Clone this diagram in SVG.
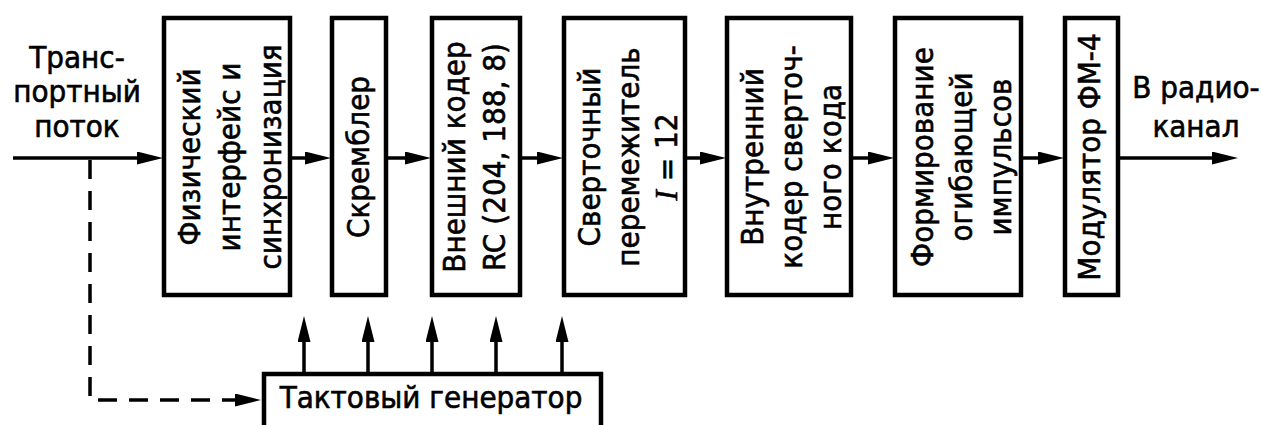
<svg xmlns="http://www.w3.org/2000/svg" width="1262" height="425" viewBox="0 0 1262 425">
<defs>
<style>
.box{fill:#fff;stroke:#000;stroke-width:4.5}
.ln{fill:none;stroke:#000;stroke-width:3.5;marker-end:url(#ah)}
.dash{stroke-dasharray:19 12}
text{font-family:"DejaVu Sans Condensed","DejaVu Sans",sans-serif;font-stretch:condensed;font-size:31px;fill:#000;stroke:#000;stroke-width:0.6;text-anchor:middle}
.it{font-family:"Liberation Serif",serif;font-style:italic}
</style>
<marker id="ah" markerUnits="userSpaceOnUse" markerWidth="26" markerHeight="13" refX="15" refY="6.5" orient="auto" viewBox="0 0 26 13">
<path d="M0,0 L26,6.5 L0,13 Z" fill="#000"/>
</marker>
</defs>
<rect width="1262" height="425" fill="#fff"/>
<g id="connectors">
<path class="ln" d="M13,158 H152"/>
<path class="ln" d="M290,158 H320"/>
<path class="ln" d="M386,158 H420"/>
<path class="ln" d="M522,158 H552"/>
<path class="ln" d="M685,158 H715"/>
<path class="ln" d="M851,158 H883"/>
<path class="ln" d="M1021,158 H1053"/>
<path class="ln" d="M1120,158 H1227"/>
<path class="ln" d="M304,372 V327"/>
<path class="ln" d="M368,372 V327"/>
<path class="ln" d="M432,372 V327"/>
<path class="ln" d="M496,372 V327"/>
<path class="ln" d="M562,372 V327"/>
<path class="ln dash" d="M90,160 V400 H250"/>
</g>
<g id="label-in">
<text x="77" y="68">Транс-</text>
<text x="77" y="102">портный</text>
<text x="77" y="137">поток</text>
</g>
<g id="label-out">
<text x="1196" y="98">В радио-</text>
<text x="1196" y="137">канал</text>
</g>
<g id="n1">
<rect class="box" x="164" y="18" width="126" height="277"/>
<text transform="translate(200,157) rotate(-90)">Физический</text>
<text transform="translate(240,157) rotate(-90)">интерфейс и</text>
<text transform="translate(281,157) rotate(-90)">синхронизация</text>
</g>
<g id="n2">
<rect class="box" x="332" y="18" width="54" height="277"/>
<text transform="translate(369,157) rotate(-90)">Скремблер</text>
</g>
<g id="n3">
<rect class="box" x="432" y="18" width="88" height="277"/>
<text transform="translate(465,157) rotate(-90)">Внешний кодер</text>
<text transform="translate(505,157) rotate(-90)" textLength="228" lengthAdjust="spacingAndGlyphs">RC (204, 188, 8)</text>
</g>
<g id="n4">
<rect class="box" x="564" y="18" width="121" height="277"/>
<text transform="translate(600,157) rotate(-90)">Сверточный</text>
<text transform="translate(639,157) rotate(-90)">перемежитель</text>
<text transform="translate(677,157) rotate(-90)"><tspan class="it">I</tspan> = 12</text>
</g>
<g id="n5">
<rect class="box" x="727" y="18" width="124" height="277"/>
<text transform="translate(763,157) rotate(-90)">Внутренний</text>
<text transform="translate(802,157) rotate(-90)">кодер сверточ-</text>
<text transform="translate(841,157) rotate(-90)">ного кода</text>
</g>
<g id="n6">
<rect class="box" x="895" y="18" width="126" height="277"/>
<text transform="translate(933,157) rotate(-90)">Формирование</text>
<text transform="translate(972,157) rotate(-90)">огибающей</text>
<text transform="translate(1011,157) rotate(-90)">импульсов</text>
</g>
<g id="n7">
<rect class="box" x="1065" y="18" width="53" height="277"/>
<text transform="translate(1100,157) rotate(-90)">Модулятор ФМ-4</text>
</g>
<g id="gen">
<rect class="box" x="264" y="374" width="337" height="80"/>
<text x="431" y="408">Тактовый генератор</text>
</g>
</svg>
